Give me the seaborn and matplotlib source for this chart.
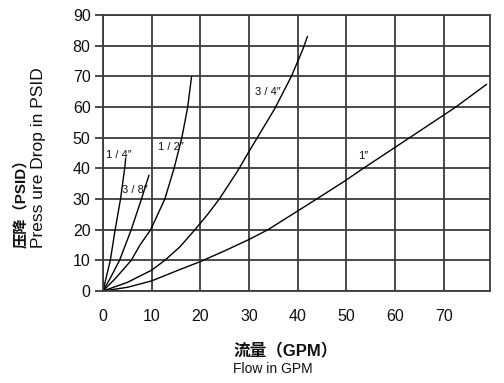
import matplotlib
matplotlib.use("Agg")
import matplotlib.pyplot as plt
import seaborn as sns
import pandas as pd

# ---- data ----
x_14 = [0, 1.5, 2.5, 3.6, 4.45, 4.66]
y_14 = [0, 10, 20, 30, 40, 43.2]
x_38 = [0, 1.6, 3.4, 5.8, 7.9, 9.45]
y_38 = [0, 4.5, 10, 20, 30, 37.8]
x_12 = [0, 2.5, 5.8, 7.6, 9.8, 12.7, 14.6, 16.2, 17.4, 18.2]
y_12 = [0, 4, 10, 15, 20, 30, 40, 50, 60, 70]
x_34 = [0, 5, 10, 12.7, 15.8, 18.9, 21.5, 23.9, 27.6, 30, 31.7, 35.3, 38.7, 41.1, 42]
y_34 = [0, 2.8, 6.8, 10, 14.4, 20, 25, 30, 39, 45.5, 50, 59.5, 70, 79, 83]
x_1 = [0, 5, 10, 15.8, 20, 25, 30, 33.9, 38.4, 43.9, 49.7, 53.1, 63, 72.3, 78.8]
y_1 = [0, 1.2, 3.3, 7.0, 9.6, 13.1, 16.8, 20, 24.5, 30, 35.9, 39.6, 50, 59.8, 67.4]

sizes = ["1/4\u2033", "3/8\u2033", "1/2\u2033", "3/4\u2033", "1\u2033"]
label_x = [0.6, 3.9, 11.2, 31.3, 52.5]
label_y = [44.5, 33.0, 47.0, 65.0, 44.0]

x_ticks = [0, 10, 20, 30, 40, 50, 60, 70]
y_ticks = [0, 10, 20, 30, 40, 50, 60, 70, 80, 90]

series = [(x_14, y_14), (x_38, y_38), (x_12, y_12), (x_34, y_34), (x_1, y_1)]
frames = [pd.DataFrame({"flow": xs, "psid": ys, "size": s}) for s, (xs, ys) in zip(sizes, series)]
df = pd.concat(frames, ignore_index=True)

sns.set_theme(style="white")
plt.rcParams["font.family"] = ["Liberation Sans", "Noto Sans CJK SC", "DejaVu Sans"]

fig = plt.figure(figsize=(5.04, 3.83), dpi=100)
ax = fig.add_axes([103 / 504, 1 - 291 / 383, (490 - 103) / 504, (291 - 15) / 383])

sns.lineplot(data=df, x="flow", y="psid", hue="size", units="size", estimator=None,
             sort=False, palette=["black"] * 5, legend=False, linewidth=1.0, ax=ax)

gc = "#3c3c3c"
ax.set_xlim(0, 79.5)
ax.set_ylim(0, 90)
ax.set_xticks(x_ticks)
ax.set_yticks(y_ticks)
ax.grid(True, color=gc, linewidth=1.3)
ax.set_axisbelow(True)
for sp in ax.spines.values():
    sp.set_color(gc)
    sp.set_linewidth(1.3)
    sp.set_visible(True)
ax.tick_params(axis="y", length=6, width=1.3, color=gc, pad=3, labelsize=11.5, labelcolor="#111111", left=True)
ax.tick_params(axis="x", length=0, pad=13, labelsize=11.5, labelcolor="#111111", bottom=True)
ax.set_xlabel("")
ax.set_ylabel("")

lab_font = ["Liberation Sans Narrow", "Liberation Sans", "DejaVu Sans"]
for s, lx, ly in zip(sizes, label_x, label_y):
    txt = " ".join(list(s[:-1])) + s[-1] if "/" in s else s
    ax.text(lx, ly, txt, family=lab_font, fontsize=8, color="#111111", ha="left", va="center")

fig.text(21 / 504, 1 - 248 / 383, "压降（PSID）", rotation=90, ha="center", va="bottom",
         fontsize=11, fontweight="bold", color="#111111")
fig.text(39 / 504, 1 - 248 / 383, "Press ure Drop in PSID", rotation=90, ha="center", va="bottom",
         fontsize=12.5, color="#111111")
fig.text(233 / 504, 1 - 351 / 383, "流量（GPM）", ha="left", va="center",
         fontsize=12, fontweight="bold", color="#111111")
fig.text(233 / 504, 1 - 369 / 383, "Flow in GPM", ha="left", va="center",
         fontsize=10, color="#111111")

fig.savefig("out.png", dpi=100)
